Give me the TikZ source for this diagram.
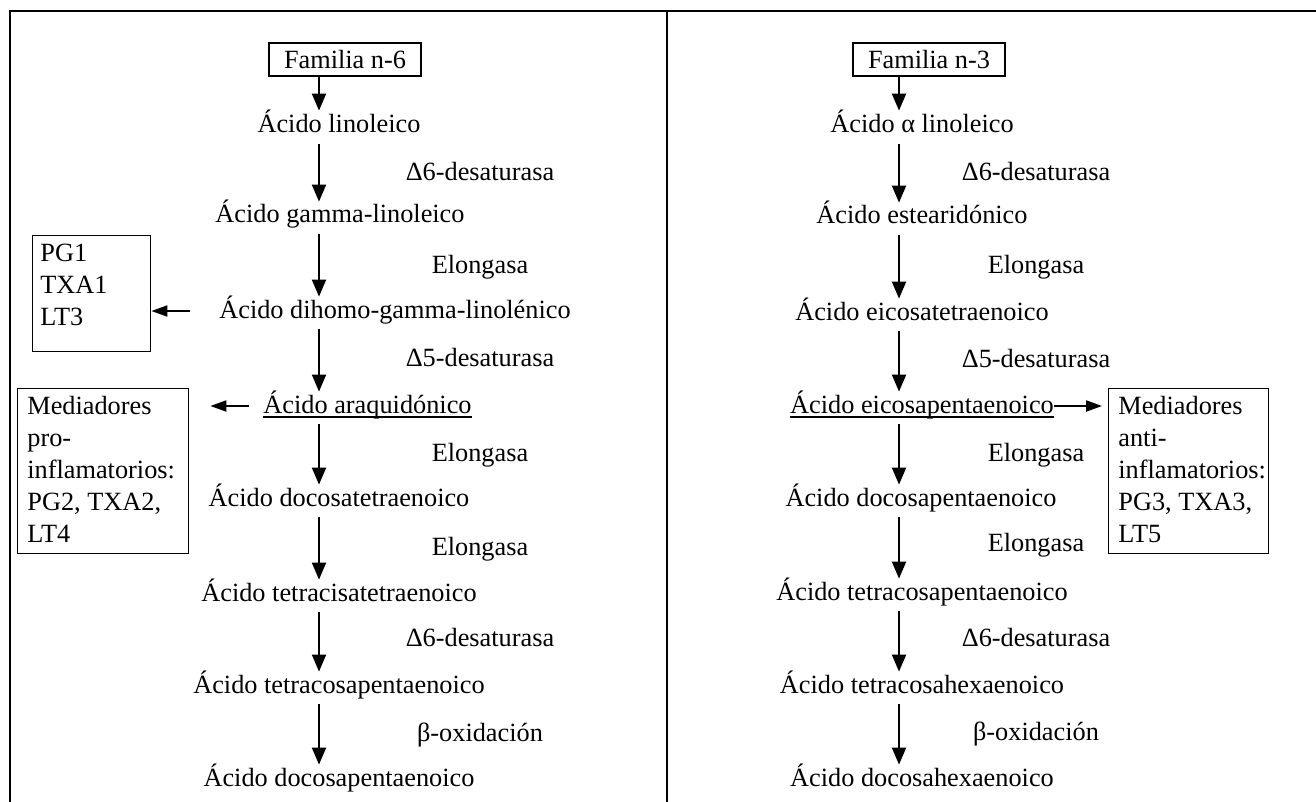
\documentclass[tikz,border=0pt]{standalone}
\usepackage{fontspec}
\setmainfont{Liberation Serif}
\usetikzlibrary{arrows.meta,calc}
\tikzset{
  txt/.style={inner sep=0pt, text height=10pt, text depth=3pt, anchor=base},
  famb/.style={draw, line width=0.7pt, minimum width=76pt, minimum height=16.5pt, inner sep=0pt},
  sidebox/.style={draw, line width=0.7pt, inner sep=0pt, anchor=north west},
  sidetxt/.style={inner sep=0pt, anchor=north west, align=left},
  arr/.style={line width=1pt, -{Triangle[length=8.5pt,width=7pt]}},
  sarr/.style={line width=1pt, -{Triangle[length=8pt,width=5.5pt]}},
  darr/.style={arr, shorten <=2.5pt, shorten >=0.5pt},
  framel/.style={line width=0.8pt},
  uline/.style={line width=0.7pt}
}
\begin{document}
\begin{tikzpicture}[x=0.5pt, y=-0.5pt, font=\fontsize{13.15}{16}\selectfont]
\useasboundingbox (0,0) rectangle (1316,802);
% frame
\draw[framel] (10,802) -- (10,11) -- (1316,11);
\draw[framel] (667,11) -- (667,802);
\coordinate (axL) at (319,0);
\coordinate (axR) at (899,0);
% ---------- left column ----------
\node[famb] (famL) at (345,59.5) {Familia n-6};
\node[txt] (a1) at (339,133) {Ácido linoleico};
\node[txt] (a2) at (340,223) {Ácido gamma-linoleico};
\node[txt] (a3) at (395,318) {Ácido dihomo-gamma-linolénico};
\node[txt] (a4) at (367.5,413) {Ácido araquidónico};
\node[txt] (a5) at (339,506) {Ácido docosatetraenoico};
\node[txt] (a6) at (339,601) {Ácido tetracisatetraenoico};
\node[txt] (a7) at (339,693) {Ácido tetracosapentaenoico};
\node[txt] (a8) at (339,786) {Ácido docosapentaenoico};
\node[txt] (l1) at (480,181) {Δ6-desaturasa};
\node[txt] (l2) at (480,273) {Elongasa};
\node[txt] (l3) at (480,366) {Δ5-desaturasa};
\node[txt] (l4) at (480,461) {Elongasa};
\node[txt] (l5) at (480,555) {Elongasa};
\node[txt] (l6) at (480,646) {Δ6-desaturasa};
\node[txt] (l7) at (480,741) {β-oxidación};
\draw[uline] ([yshift=-2pt]a4.base west) -- ([yshift=-2pt]a4.base east);
% side boxes left
\node[sidebox, minimum width=59pt, minimum height=58pt] (pgbox) at (32,235) {};
\node[sidetxt] (pgtxt) at (40,244) {PG1\\TXA1\\LT3};
\node[sidebox, minimum width=85.5pt, minimum height=82.5pt] (medL) at (17,388) {};
\node[sidetxt] (medLtxt) at (27,396) {Mediadores\\pro-\\inflamatorios:\\PG2, TXA2,\\LT4};
% arrows left
\draw[arr, shorten >=1pt] (famL.south -| axL) -- (axL |- a1.north);
\draw[darr] (axL |- a1.south) -- (axL |- a2.north);
\draw[darr] (axL |- a2.south) -- (axL |- a3.north);
\draw[darr] (axL |- a3.south) -- (axL |- a4.north);
\draw[darr] (axL |- a4.south) -- (axL |- a5.north);
\draw[darr] (axL |- a5.south) -- (axL |- a6.north);
\draw[darr] (axL |- a6.south) -- (axL |- a7.north);
\draw[darr] (axL |- a7.south) -- (axL |- a8.north);
\draw[sarr] ($(a3.west)+(-14.5pt,0)$) -- (pgbox.east |- a3.west);
\draw[sarr] ($(a4.west)+(-7pt,0)$) -- ($(medL.east |- a4.west)+(10.5pt,0)$);
% ---------- right column ----------
\node[famb] (famR) at (929,59.5) {Familia n-3};
\node[txt] (b1) at (922,133) {Ácido α linoleico};
\node[txt] (b2) at (922,224) {Ácido estearidónico};
\node[txt] (b3) at (922,320) {Ácido eicosatetraenoico};
\node[txt] (b4) at (922,413) {Ácido eicosapentaenoico};
\node[txt] (b5) at (921,506) {Ácido docosapentaenoico};
\node[txt] (b6) at (922,600) {Ácido tetracosapentaenoico};
\node[txt] (b7) at (922,693) {Ácido tetracosahexaenoico};
\node[txt] (b8) at (922,786) {Ácido docosahexaenoico};
\node[txt] (m1) at (1036,181) {Δ6-desaturasa};
\node[txt] (m2) at (1036,273) {Elongasa};
\node[txt] (m3) at (1036,367) {Δ5-desaturasa};
\node[txt] (m4) at (1036,461) {Elongasa};
\node[txt] (m5) at (1036,551) {Elongasa};
\node[txt] (m6) at (1036,646) {Δ6-desaturasa};
\node[txt] (m7) at (1036,740) {β-oxidación};
\draw[uline] ([yshift=-2pt]b4.base west) -- ([yshift=-2pt]b4.base east);
\node[sidebox, minimum width=80pt, minimum height=82.5pt] (medR) at (1108,388) {};
\node[sidetxt] (medRtxt) at (1118,396) {Mediadores\\anti-\\inflamatorios:\\PG3, TXA3,\\LT5};
\draw[arr, shorten >=1pt] (famR.south -| axR) -- (axR |- b1.north);
\draw[darr] (axR |- b1.south) -- (axR |- b2.north);
\draw[darr] (axR |- b2.south) -- (axR |- b3.north);
\draw[darr] (axR |- b3.south) -- (axR |- b4.north);
\draw[darr] (axR |- b4.south) -- (axR |- b5.north);
\draw[darr] (axR |- b5.south) -- (axR |- b6.north);
\draw[darr] (axR |- b6.south) -- (axR |- b7.north);
\draw[darr] (axR |- b7.south) -- (axR |- b8.north);
\draw[sarr] (b4.east) -- ($(medR.west |- b4.east)+(-3pt,0)$);
\end{tikzpicture}
\end{document}
